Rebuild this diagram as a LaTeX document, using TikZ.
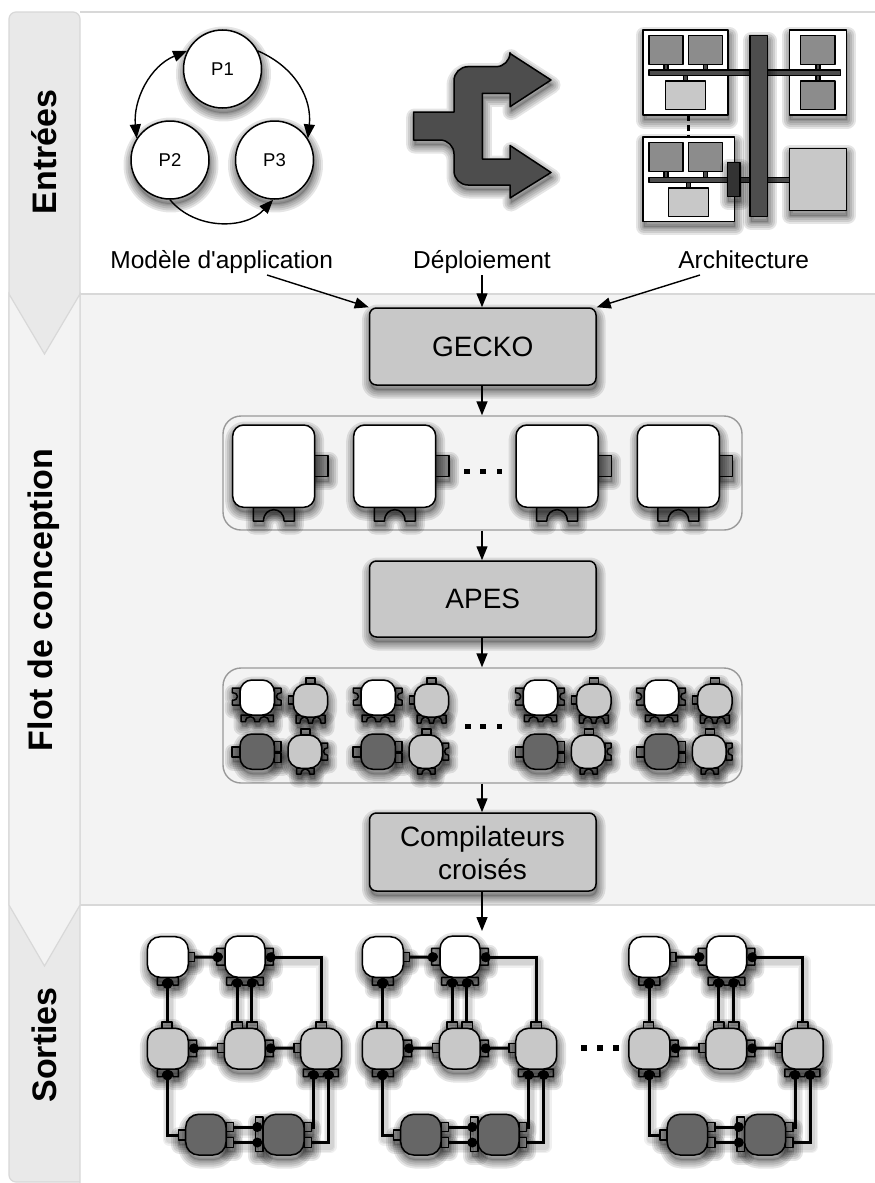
\documentclass[tikz,border=0pt]{standalone}
\usepackage{fontspec}
\setmainfont{Liberation Sans}
\newfontfamily\plainf{Liberation Sans}
\usetikzlibrary{arrows.meta,calc}
\definecolor{stripA}{HTML}{E9E9E9}
\definecolor{stripB}{HTML}{F3F3F3}
\definecolor{gridc}{HTML}{D8D8D8}
\definecolor{lightg}{HTML}{C8C8C8}
\definecolor{midg}{HTML}{8C8C8C}
\definecolor{portg}{HTML}{7F7F7F}
\definecolor{darkg}{HTML}{666666}
\definecolor{busg}{HTML}{4D4D4D}
\tikzset{
 sh/.style={preaction={draw=black,opacity=.1,line width=#1,line join=round,transform canvas={xshift=1pt,yshift=-5pt}}},
 shf/.style={preaction={fill=black,opacity=.14,transform canvas={xshift=1pt,yshift=-5pt}}},
 softshadow/.style={shf,sh=17pt,sh=13pt,sh=9pt,sh=5pt,sh=2pt},
 slin/.style={preaction={draw=black,opacity=.06,line width=#1,line join=round,transform canvas={xshift=1.5pt,yshift=-4pt}}},
 lineshadow/.style={slin=13pt,slin=10pt,slin=7pt},
 ln/.style={draw=black,line width=1.5pt,line join=round},
 block/.style={ln,softshadow},
 comp/.style={rectangle,ln,softshadow,rounded corners=#1,inner sep=0pt,outer sep=0pt},
 comp/.default=11pt,
 port/.style={rectangle,ln,softshadow,fill=portg,inner sep=0pt,outer sep=0pt},
 sock/.style={ln,softshadow,fill=portg},
 arr/.style={draw=black,line width=1.4pt,-{Triangle[length=14pt,width=11pt]}},
 wire/.style={draw=black,line width=3pt,lineshadow},
 pin/.style={circle,fill=black,inner sep=0pt,minimum size=10pt,outer sep=0pt},
 dotm/.style={rectangle,fill=black,inner sep=0pt,minimum size=5.5pt},
 side/.style={rotate=90,font=\fontsize{34}{38}\selectfont\bfseries,inner sep=0pt},
 lbl/.style={font=\fontsize{24.5}{29}\selectfont,inner sep=0pt,anchor=base},
 proc/.style={rectangle,draw=black,line width=1.5pt,softshadow,fill=lightg,rounded corners=7pt,inner sep=0pt},
 proct/.style={font=\fontsize{28}{33}\selectfont,align=center},
 pcirc/.style={circle,draw=black,line width=1.5pt,softshadow,fill=white,minimum size=78pt,inner sep=0pt,font=\fontsize{18.5}{22}\selectfont},
 group/.style={draw=black!40,line width=1.4pt,fill=stripB,rounded corners=18pt},
}
\newcommand\bx[7][comp]{\node[#1,fill=#7,minimum width={(#5-#3)*1pt},minimum height={(#6-#4)*1pt}] (#2) at ({(#3+#5)/2},{(#4+#6)/2}) {};}
\newcommand\prt[5]{\node[port,minimum width={(#4-#2)*1pt},minimum height={(#5-#3)*1pt}] (#1) at ({(#2+#4)/2},{(#3+#5)/2}) {};}
% sideways socket: body edge x0, outer x1, y1..y2
\newcommand\sockH[4]{\path[sock] (#1,#3) -- (#2,#3) -- (#2,{(#3+#4)/2-.22*(#4-#3)})
  .. controls ({#2+.9*(#1-#2)},{(#3+#4)/2-.22*(#4-#3)}) and ({#2+.9*(#1-#2)},{(#3+#4)/2+.22*(#4-#3)}) .. (#2,{(#3+#4)/2+.22*(#4-#3)})
  -- (#2,#4) -- (#1,#4) -- cycle;}
% bottom socket, one notch
\newcommand\sockV[4]{\path[sock] (#3,#1) -- (#3,#2) -- ({(#3+#4)/2-.25*(#4-#3)},#2)
  .. controls ({(#3+#4)/2-.25*(#4-#3)},{#2+1.1*(#1-#2)}) and ({(#3+#4)/2+.25*(#4-#3)},{#2+1.1*(#1-#2)}) .. ({(#3+#4)/2+.25*(#4-#3)},#2)
  -- (#4,#2) -- (#4,#1) -- cycle;}
% bottom socket, two notches
\newcommand\sockW[4]{\path[sock] (#3,#1) -- (#3,#2) -- ({#3+.14*(#4-#3)},#2)
  .. controls ({#3+.14*(#4-#3)},{#2+1.0*(#1-#2)}) and ({#3+.43*(#4-#3)},{#2+1.0*(#1-#2)}) .. ({#3+.43*(#4-#3)},#2)
  -- ({#3+.57*(#4-#3)},#2)
  .. controls ({#3+.57*(#4-#3)},{#2+1.0*(#1-#2)}) and ({#3+.86*(#4-#3)},{#2+1.0*(#1-#2)}) .. ({#3+.86*(#4-#3)},#2)
  -- (#4,#2) -- (#4,#1) -- cycle;}
\begin{document}
\begin{tikzpicture}[x=1pt,y=-1pt]
\useasboundingbox (0,0) rectangle (875,1183);
\fill[white] (0,0) rectangle (875,1183);
% swimlanes
\fill[stripB] (80,294) rectangle (875,905);
\path[fill=stripA,draw=gridc,line width=1.2pt,rounded corners=7pt] (80,1195) -- (80,12) -- (9,12) -- (9,1182) -- (80,1182);
\draw[gridc,line width=1.2pt] (80,12) -- (875,12);
\draw[gridc,line width=1.2pt] (80,294) -- (875,294) (80,905) -- (875,905);
\path[fill=stripB,draw=gridc,line width=1.2pt] (9,294) -- (44.5,354) -- (80,294) -- (80,905) -- (44.5,966) -- (9,905) -- cycle;
\node[side] (lane1) at (44,152) {Entrées};
\node[side] (lane2) at (44,600) {Flot de conception};
\node[side] (lane3) at (44,1045) {Sorties};

% process graph
\node[pcirc] (P1) at (222.5,69) {P1};
\node[pcirc] (P2) at (170,160) {P2};
\node[pcirc] (P3) at (274.5,160) {P3};
\draw[arr] (P1.27) .. controls (297,68) and (312,100) .. (P3.33);
\draw[arr,{Triangle[length=14pt,width=11pt]}-{Triangle[length=14pt,width=11pt]}] (P1.153) .. controls (150,66) and (133,100) .. (P2.147);
\draw[arr] (P2.-90) .. controls (195,230) and (245,230) .. (P3.-92);

% deployment arrow
\path[block,fill=busg] (413.7,112) -- (454,112) [rounded corners=14pt] -- (454,66.7) -- (510,66.7) [rounded corners=0pt] -- (510,53.5) -- (551,80) -- (510,106.7) -- (510,93.3) -- (482.3,93.3) -- (482.3,159) -- (510,159) -- (510,145.5) -- (551,172.5) -- (510,198) -- (510,185) [rounded corners=14pt] -- (454,185) -- (454,140) [rounded corners=0pt] -- (413.7,140) -- cycle;

% architecture
\tikzset{ab/.style={ln,softshadow,fill=#1},af/.style={ln,fill=#1}}
\draw[black,line width=3pt,dash pattern=on 6pt off 4pt] (688.3,115) -- (688.3,137);
\path[ab=white] (643,30) rectangle (728,115);
\path[ab=white] (789.3,30) rectangle (846.3,115);
\path[ab=white] (643,137) rectangle (734.3,221.7);
\path[ab=lightg] (789.3,148.3) rectangle (846.3,210.7);
\path[af=busg] (664,64) rectangle (668,70) (703.3,64) rectangle (707.3,70) (683.7,75.7) rectangle (687.7,81);
\path[af=busg] (816,64) rectangle (820,70) (816,75.7) rectangle (820,81);
\path[af=busg] (664,171.7) rectangle (668,177.3) (703.3,171.7) rectangle (707.3,177.3) (686.7,182.7) rectangle (690.7,188);
\path[af=midg] (649,35.7) rectangle (683,64.3) (688.3,35.7) rectangle (722.3,64.3);
\path[af=lightg] (665.7,81) rectangle (705.7,109.3);
\path[af=midg] (800.7,35.7) rectangle (835,64.3) (800.7,81) rectangle (835,109.3);
\path[af=midg] (649,142.7) rectangle (683,171.7) (688.3,142.7) rectangle (722.3,171.7);
\path[af=lightg] (668.7,188) rectangle (708.7,216.7);
\path[af=busg] (649,70) rectangle (840.7,75.7);
\path[af=busg] (649,177.3) rectangle (789.3,182.7);
\path[ab=busg] (750,35.7) rectangle (767.3,216.7);
\path[ab=black!80] (727.3,162.3) rectangle (740,196.7);

% labels
\node[lbl] (lm) at (221.7,268) {\plainf Modèle d'application};
\node[lbl] (ld) at (482,268) {Déploiement};
\node[lbl] (la) at (743.7,268) {Architecture};

% flow
\bx[proc]{gecko}{369.5}{308}{596}{385}{lightg}
\node[proct] (tgecko) at (gecko) {GECKO};
\node[group,minimum width=519pt,minimum height=114pt,inner sep=0pt] (g1) at (482.5,473) {};
\bx[proc]{apes}{369.5}{561}{596}{637}{lightg}
\node[proct] (tapes) at (apes) {APES};
\node[group,minimum width=519pt,minimum height=115pt,inner sep=0pt] (g2) at (482.5,725.5) {};
\bx[proc]{cc}{369.5}{813}{596}{891}{lightg}
\node[proct] (tcc) at (482.5,853) {Compilateurs\\croisés};
\coordinate (am) at (267,275);
\coordinate (ad) at (482,275);
\coordinate (aa) at (700,275);
\coordinate (oo) at (482,931);
\draw[arr] (am) -- (gecko.north west);
\draw[arr] (ad) -- (ad |- gecko.north);
\draw[arr] (aa) -- (gecko.north east);
\draw[arr] (gecko.south -| ad) -- (ad |- g1.north);
\draw[arr] (g1.south -| ad) -- (ad |- apes.north);
\draw[arr] (apes.south -| ad) -- (ad |- g2.north);
\draw[arr] (g2.south -| ad) -- (ad |- cc.north);
\draw[arr] (cc.south -| ad) -- (oo);

% big components
\foreach \dx/\n in {0/a,121/b,283.3/c,404.6/d}{
\begin{scope}[shift={(\dx,0)},name prefix=\n-]
\prt{rp}{314.7}{455.7}{328}{476.7}
\sockV{507.3}{521}{253.3}{294.3}
\bx{body}{232.7}{425}{314.7}{507.3}{white}
\end{scope}}
\node[dotm] (d11) at (467,471.5) {};
\node[dotm] (d12) at (483,471.5) {};
\node[dotm] (d13) at (499.3,471.5) {};

% small components
\foreach \dx/\n in {0/a,121/b,283.3/c,404.3/d}{
\begin{scope}[shift={(\dx,0)},name prefix=s\n-]
\sockH{240}{232.3}{688}{705}
\sockH{274.3}{281}{688}{705}
\sockW{715}{721.7}{241}{273.3}
\bx[comp=12pt]{w}{240}{680}{274.3}{715}{white}
\prt{t2}{306}{678}{315}{684}
\prt{l2}{288.3}{696}{293.3}{704}
\sockW{715}{723}{296}{325}
\bx[comp=13pt]{g}{293.3}{684}{327.7}{717}{lightg}
\prt{l3}{232}{747}{240}{757}
\prt{r3a}{274}{741.7}{281}{751.7}
\prt{r3b}{274}{753}{281}{762.7}
\bx[comp=12pt]{k}{240}{734}{274.3}{769.3}{darkg}
\prt{t4}{301}{729}{310}{735}
\sockH{321.7}{327.7}{743}{760}
\sockV{768}{774}{296.7}{314}
\bx[comp=13pt]{h}{288}{735}{321.7}{768.3}{lightg}
\end{scope}}
\node[dotm] (d21) at (468,726.5) {};
\node[dotm] (d22) at (483,726.5) {};
\node[dotm] (d23) at (499.3,726.5) {};

% output blocks
\foreach \dx/\n in {0/a,215/b,481.5/c}{
\begin{scope}[shift={(\dx,0)},name prefix=o\n-]
\colorlet{portg}{black!40}
\prt{w1r}{188.3}{952.3}{194.3}{961.7}
\sockV{977.3}{985}{157.3}{178.3}
\bx[comp=13pt]{w1}{147.3}{936.7}{188.3}{977.3}{white}
\sockH{225}{216.7}{948.3}{965}
\sockH{265}{273.3}{948.3}{965}
\sockW{977.3}{985}{226.7}{263.3}
\bx[comp=13pt]{w2}{225}{936}{265}{977.3}{white}
\prt{g1t}{162}{1022}{172}{1028.3}
\sockH{188.3}{196.7}{1040}{1056.7}
\sockV{1069}{1076.7}{157.3}{178.3}
\bx[comp=13pt]{g1}{147.3}{1028.3}{188.3}{1069}{lightg}
\prt{g2ta}{232}{1022}{242.6}{1028.3}
\prt{g2tb}{247}{1022}{257.3}{1028.3}
\prt{g2l}{217.3}{1043.3}{224.3}{1052.7}
\sockH{265}{273.3}{1040}{1056.7}
\bx[comp=13pt]{g2}{224.3}{1028.3}{265}{1069}{lightg}
\prt{g3t}{316}{1022}{326.3}{1028.3}
\prt{g3l}{294}{1043.3}{300.7}{1052.7}
\sockW{1069}{1076.7}{303.3}{338.3}
\bx[comp=13pt]{g3}{300.7}{1028.3}{341.7}{1069}{lightg}
\prt{d1l}{178.3}{1130}{185.7}{1140}
\prt{d1a}{226}{1122.3}{233.7}{1131.7}
\prt{d1b}{226}{1137.7}{233.7}{1147.3}
\bx[comp=13pt]{d1}{185.7}{1114.3}{226}{1155}{darkg}
\path[sock] (263,1117) -- (255.7,1117) -- (255.7,1151.7) -- (263,1151.7) -- cycle;
\prt{d2a}{304}{1122.3}{311.7}{1131.7}
\prt{d2b}{304}{1137.7}{311.7}{1147.3}
\bx[comp=13pt]{d2}{263}{1114.3}{304}{1155}{darkg}
% pins
\node[pin] (pw1b) at (167.5,984) {};
\node[pin] (pw2l) at (217.5,957.3) {};
\node[pin] (pw2r) at (270.7,957.3) {};
\node[pin] (pw2a) at (237.3,983) {};
\node[pin] (pw2b) at (251.8,983) {};
\node[pin] (pg1r) at (194,1048.3) {};
\node[pin] (pg1b) at (167.5,1075.5) {};
\node[pin] (pg2r) at (270.7,1048.3) {};
\node[pin] (pg3a) at (313.7,1075) {};
\node[pin] (pg3b) at (328.7,1075) {};
\node[pin] (pd2a) at (257.3,1127) {};
\node[pin] (pd2b) at (257.3,1142.5) {};
% wires
\draw[wire] (w1r.east) -- (pw2l.center);
\draw[wire] (pw1b.center) -- (pw1b |- g1t.north);
\draw[wire] (pw2a.center) -- (pw2a |- g2ta.north);
\draw[wire] (pw2b.center) -- (pw2b |- g2tb.north);
\draw[wire] (pw2r.center) -| (g3t.north);
\draw[wire] (pg1r.center) -- (g2l.west);
\draw[wire] (pg2r.center) -- (g3l.west);
\draw[wire] (pg1b.center) |- (d1l.west);
\draw[wire] (pg3a.center) |- (d2a.east);
\draw[wire] (pg3b.center) |- (d2b.east);
\draw[wire] (d1a.east) -- (pd2a.center);
\draw[wire] (d1b.east) -- (pd2b.center);
\end{scope}}
\node[dotm] (d31) at (584,1048) {};
\node[dotm] (d32) at (600,1048) {};
\node[dotm] (d33) at (616,1048) {};
\end{tikzpicture}
\end{document}
